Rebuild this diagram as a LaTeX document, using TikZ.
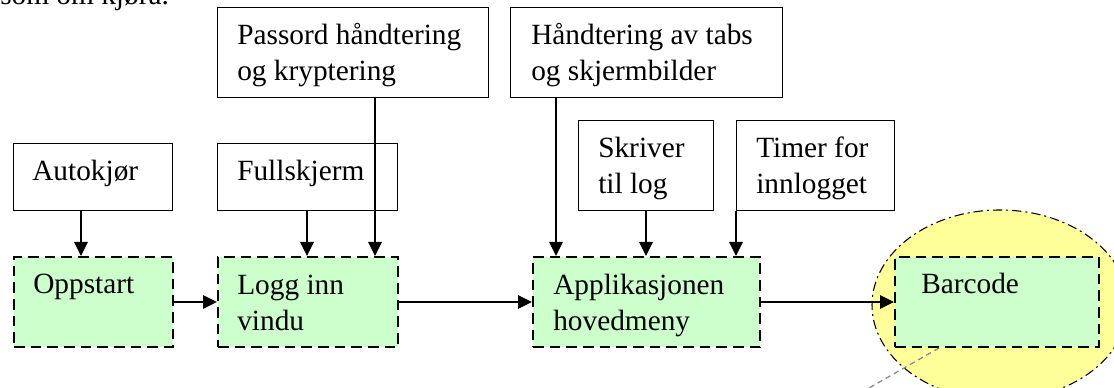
\documentclass[tikz,border=0pt]{standalone}
\usepackage{fontspec}
\setmainfont{Liberation Serif}
\usetikzlibrary{arrows.meta,shapes.geometric}
\definecolor{boxgreen}{RGB}{204,255,204}
\definecolor{halo}{RGB}{255,255,153}
\definecolor{calloutgray}{RGB}{140,140,140}
\begin{document}
\begin{tikzpicture}[x=0.75pt,y=-0.75pt,
  font=\fontsize{22}{27}\selectfont,
  plainbox/.style={draw=black, line width=1pt, fill=white, anchor=north west, inner sep=0pt},
  stepbox/.style={draw=black, fill=boxgreen, line width=1.5pt, dash pattern=on 8pt off 4.5pt, anchor=north west, inner sep=0pt},
  boxtext/.style={anchor=base west, inner sep=0pt, align=left},
  arr/.style={line width=1.2pt, -{Triangle[length=10.5pt,width=10pt]}},
]
\useasboundingbox (0,0) rectangle (1114,388);
\clip (0,0) rectangle (1114,388);

% cut-off text line at the top
\node[boxtext] (intro) at (0,5) {som om kjøra.};

% highlight ellipse
\node[draw=black, fill=halo, ellipse, line width=0.8pt, dash pattern=on 7pt off 3pt on 1.5pt off 3pt,
      minimum width=192pt, minimum height=142.5pt, inner sep=0pt] (halo) at (1000,305) {};

% upper boxes
\node[plainbox, minimum width=203.25pt, minimum height=67.5pt] (pwd) at (217,7) {};
\node[plainbox, minimum width=204pt, minimum height=67.5pt] (tabs) at (510,7) {};
\node[plainbox, minimum width=119.25pt, minimum height=50.25pt] (auto) at (13,143) {};
\node[plainbox, minimum width=135pt, minimum height=50.25pt] (full) at (217,143) {};
\node[plainbox, minimum width=101.25pt, minimum height=67.5pt] (log) at (578,120) {};
\node[plainbox, minimum width=118.5pt, minimum height=67.5pt] (timer) at (736,120) {};

% main flow boxes
\node[stepbox, minimum width=119.25pt, minimum height=67.5pt] (opp) at (13,256) {};
\node[stepbox, minimum width=135pt, minimum height=67.5pt] (logg) at (217,256) {};
\node[stepbox, minimum width=170.25pt, minimum height=67.5pt] (app) at (532,256) {};
\node[stepbox, minimum width=153pt, minimum height=67.5pt] (bar) at (894,256) {};

% texts (base anchor = baseline of the last line)
\node[boxtext] (tpwd) at (237,81) {Passord håndtering\\og kryptering};
\node[boxtext] (ttabs) at (531,81) {Håndtering av tabs\\og skjermbilder};
\node[boxtext] (tauto) at (32,181) {Autokjør};
\node[boxtext] (tfull) at (237,181) {Fullskjerm};
\node[boxtext] (tlog) at (598,194) {Skriver\\til log};
\node[boxtext] (ttimer) at (756,194) {Timer for\\innlogget};
\node[boxtext] (topp) at (33,294) {Oppstart};
\node[boxtext] (tlogg) at (237,330) {Logg inn\\vindu};
\node[boxtext] (tapp) at (553,330) {Applikasjonen\\hovedmeny};
\node[boxtext] (tbar) at (921,294) {Barcode};

% vertical connectors
\draw[arr] ([xshift=51pt]auto.south west) -- ([xshift=51pt]opp.north west);
\draw[arr] ([xshift=67.5pt]full.south west) -- ([xshift=67.5pt]logg.north west);
\draw[arr] ([xshift=118.5pt]pwd.south west) -- ([xshift=118.5pt]logg.north west);
\draw[arr] ([xshift=34.5pt]tabs.south west) -- ([xshift=18pt]app.north west);
\draw[arr] ([xshift=51pt]log.south west) -- ([xshift=85.5pt]app.north west);
\draw[arr] (timer.south west) -- ([xshift=153pt]app.north west);

% horizontal connectors
\draw[arr] (opp.east) -- (logg.west);
\draw[arr] (logg.east) -- (app.west);
\draw[arr] (app.east) -- (bar.west);

% callout line
\coordinate (callend) at (862,392);
\draw[calloutgray, line width=1pt, dash pattern=on 4pt off 3pt] ([xshift=33.75pt]bar.south west) -- (callend);
\end{tikzpicture}
\end{document}
